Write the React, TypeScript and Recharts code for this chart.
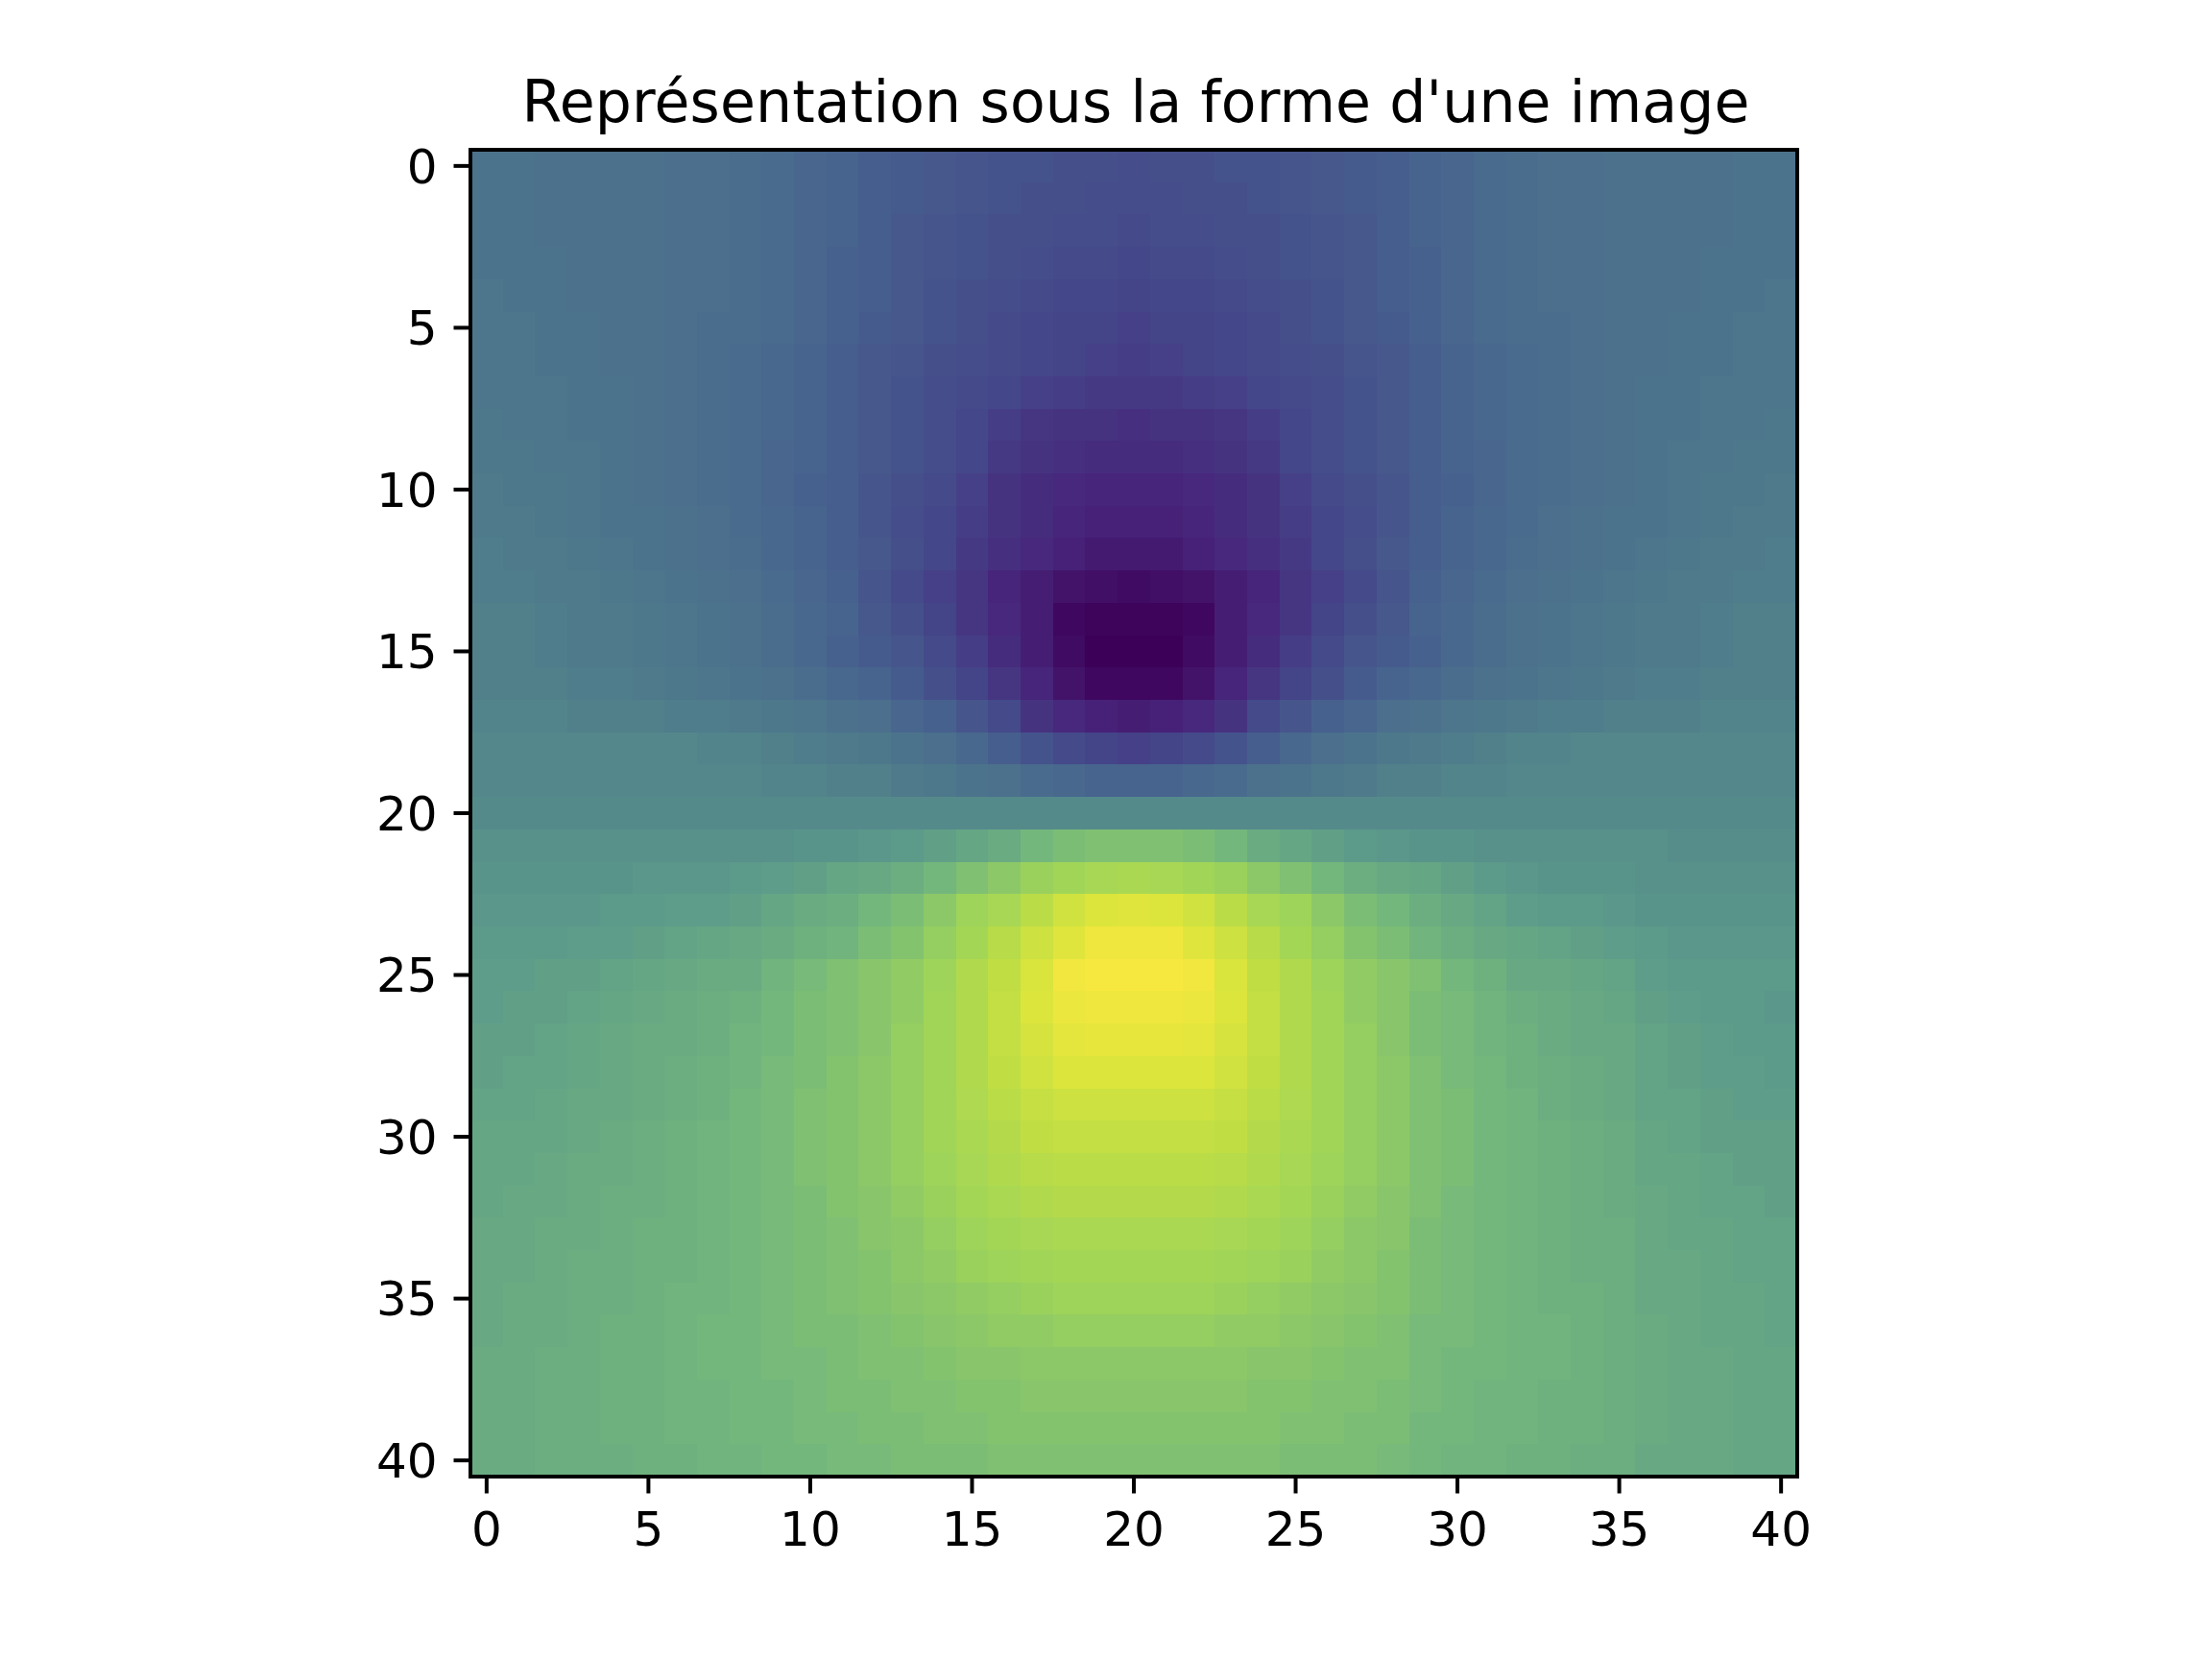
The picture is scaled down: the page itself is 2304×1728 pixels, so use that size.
import { ScatterChart, Scatter, XAxis, YAxis, ReferenceArea } from 'recharts';

const title = "Représentation sous la forme d'une image";
const xTicks = [0, 5, 10, 15, 20, 25, 30, 35, 40];
const yTicks = [0, 5, 10, 15, 20, 25, 30, 35, 40];

// values, 0 = darkest, 100 = brightest yellow
const heatRows = [
	[37, 37, 36, 36, 36, 36, 35, 35, 34, 33, 31, 30, 28, 27, 26, 25, 24, 24, 23, 23, 22, 23, 23, 24, 24, 25, 26, 27, 28, 30, 31, 33, 34, 35, 35, 36, 36, 36, 36, 37, 37],
	[37, 37, 36, 36, 36, 36, 35, 35, 34, 33, 31, 30, 28, 27, 26, 25, 24, 23, 23, 22, 22, 22, 23, 23, 24, 25, 26, 27, 28, 30, 31, 33, 34, 35, 35, 36, 36, 36, 36, 37, 37],
	[37, 37, 36, 36, 36, 36, 35, 35, 34, 33, 31, 30, 28, 26, 25, 24, 23, 23, 22, 22, 21, 22, 22, 23, 23, 24, 25, 26, 28, 30, 31, 33, 34, 35, 35, 36, 36, 36, 36, 37, 37],
	[37, 37, 37, 36, 36, 36, 35, 35, 34, 33, 31, 29, 28, 26, 25, 24, 23, 22, 21, 21, 20, 21, 21, 22, 23, 24, 25, 26, 28, 29, 31, 33, 34, 35, 35, 36, 36, 36, 37, 37, 37],
	[38, 37, 37, 36, 36, 36, 35, 35, 34, 33, 31, 29, 28, 26, 24, 23, 22, 21, 20, 20, 19, 20, 20, 21, 22, 23, 24, 26, 28, 29, 31, 33, 34, 35, 35, 36, 36, 36, 37, 37, 38],
	[38, 38, 37, 37, 36, 36, 35, 34, 34, 33, 31, 29, 27, 26, 24, 23, 21, 20, 19, 19, 18, 19, 19, 20, 21, 23, 24, 26, 27, 29, 31, 33, 34, 34, 35, 36, 36, 37, 37, 38, 38],
	[38, 38, 37, 37, 36, 36, 35, 34, 33, 32, 30, 28, 26, 25, 23, 22, 21, 20, 19, 18, 17, 18, 19, 20, 21, 22, 23, 25, 26, 28, 30, 32, 33, 34, 35, 36, 36, 37, 37, 38, 38],
	[38, 38, 38, 37, 37, 36, 35, 34, 33, 32, 30, 28, 26, 24, 22, 21, 20, 18, 17, 16, 16, 16, 17, 18, 20, 21, 22, 24, 26, 28, 30, 32, 33, 34, 35, 36, 37, 37, 38, 38, 38],
	[39, 38, 38, 37, 37, 36, 35, 34, 33, 32, 30, 28, 26, 24, 22, 20, 17, 15, 14, 14, 13, 14, 14, 15, 17, 20, 22, 24, 26, 28, 30, 32, 33, 34, 35, 36, 37, 37, 38, 38, 39],
	[39, 39, 38, 38, 37, 36, 35, 34, 33, 31, 30, 28, 26, 24, 22, 20, 16, 14, 13, 12, 12, 12, 13, 14, 16, 20, 22, 24, 26, 28, 30, 31, 33, 34, 35, 36, 37, 38, 38, 39, 39],
	[40, 39, 39, 38, 37, 36, 35, 34, 33, 31, 29, 28, 25, 23, 21, 18, 14, 12, 11, 10, 10, 10, 11, 12, 14, 18, 21, 23, 25, 28, 29, 31, 33, 34, 35, 36, 37, 38, 39, 39, 40],
	[40, 40, 39, 38, 37, 37, 36, 35, 33, 32, 30, 28, 25, 22, 20, 17, 14, 12, 10, 9, 9, 9, 10, 12, 14, 17, 20, 22, 25, 28, 30, 32, 33, 35, 36, 37, 37, 38, 39, 40, 40],
	[41, 40, 40, 39, 38, 37, 36, 35, 34, 32, 30, 28, 26, 23, 20, 16, 13, 11, 9, 7, 7, 7, 9, 11, 13, 16, 20, 23, 26, 28, 30, 32, 34, 35, 36, 37, 38, 39, 40, 40, 41],
	[41, 41, 40, 40, 39, 38, 37, 36, 35, 33, 31, 29, 25, 21, 18, 15, 10, 8, 5, 4, 3, 4, 5, 8, 10, 15, 18, 21, 25, 29, 31, 33, 35, 36, 37, 38, 39, 40, 40, 41, 41],
	[42, 42, 41, 40, 40, 39, 38, 37, 36, 34, 32, 30, 26, 23, 19, 15, 11, 8, 2, 1, 1, 1, 2, 8, 11, 15, 19, 23, 26, 30, 32, 34, 36, 37, 38, 39, 40, 40, 41, 42, 42],
	[42, 42, 41, 40, 40, 39, 38, 37, 36, 34, 32, 29, 27, 25, 21, 17, 12, 8, 3, 0, 0, 0, 3, 8, 12, 17, 21, 25, 27, 29, 32, 34, 36, 37, 38, 39, 40, 40, 41, 42, 42],
	[42, 42, 42, 41, 41, 40, 39, 38, 37, 36, 34, 32, 30, 27, 23, 19, 15, 10, 5, 2, 2, 2, 5, 10, 15, 19, 23, 27, 30, 32, 34, 36, 37, 38, 39, 40, 41, 41, 42, 42, 42],
	[43, 43, 43, 42, 42, 42, 41, 41, 40, 39, 38, 36, 35, 31, 29, 25, 21, 14, 11, 9, 8, 9, 11, 14, 21, 25, 29, 31, 35, 36, 38, 39, 40, 41, 41, 42, 42, 42, 43, 43, 43],
	[44, 44, 44, 44, 44, 44, 44, 43, 43, 42, 41, 40, 39, 37, 35, 32, 28, 24, 21, 19, 18, 19, 21, 24, 28, 32, 35, 37, 39, 40, 41, 42, 43, 43, 44, 44, 44, 44, 44, 44, 44],
	[44, 44, 44, 44, 44, 44, 44, 44, 44, 43, 43, 42, 42, 40, 39, 37, 36, 33, 32, 30, 30, 30, 32, 33, 36, 37, 39, 40, 42, 42, 43, 43, 44, 44, 44, 44, 44, 44, 44, 44, 44],
	[45, 45, 45, 45, 45, 45, 45, 45, 45, 45, 45, 45, 45, 45, 45, 45, 45, 45, 45, 45, 45, 45, 45, 45, 45, 45, 45, 45, 45, 45, 45, 45, 45, 45, 45, 45, 45, 45, 45, 45, 45],
	[47, 47, 47, 47, 47, 47, 47, 47, 47, 47, 48, 48, 49, 50, 52, 54, 56, 60, 62, 63, 63, 63, 62, 60, 56, 54, 52, 50, 49, 48, 48, 47, 47, 47, 47, 47, 47, 46, 46, 46, 46],
	[48, 48, 48, 48, 48, 49, 49, 49, 50, 51, 52, 54, 55, 57, 60, 63, 66, 69, 71, 73, 74, 73, 71, 69, 66, 63, 60, 57, 55, 54, 52, 50, 49, 48, 48, 48, 47, 47, 47, 47, 47],
	[49, 49, 49, 49, 50, 50, 51, 51, 52, 54, 56, 57, 60, 62, 66, 70, 73, 79, 86, 90, 91, 90, 86, 79, 73, 70, 66, 62, 60, 57, 55, 53, 51, 50, 50, 49, 48, 48, 48, 48, 48],
	[50, 50, 50, 51, 51, 52, 53, 54, 55, 56, 58, 59, 62, 64, 68, 72, 78, 85, 91, 97, 97, 97, 91, 85, 78, 72, 68, 64, 62, 59, 57, 55, 54, 53, 52, 51, 50, 49, 49, 49, 49],
	[51, 51, 52, 52, 53, 54, 55, 56, 56, 59, 61, 63, 65, 67, 70, 76, 81, 89, 98, 100, 100, 100, 98, 89, 81, 76, 70, 67, 65, 63, 60, 58, 55, 55, 54, 53, 51, 50, 50, 50, 50],
	[51, 52, 52, 53, 54, 55, 56, 57, 58, 60, 62, 63, 65, 67, 71, 76, 82, 90, 96, 97, 97, 97, 96, 90, 82, 76, 71, 67, 65, 62, 61, 59, 57, 56, 55, 54, 52, 51, 50, 50, 49],
	[52, 52, 53, 54, 55, 56, 56, 57, 59, 60, 62, 63, 65, 68, 71, 76, 82, 88, 93, 94, 94, 94, 93, 88, 82, 76, 71, 68, 65, 62, 61, 59, 58, 56, 55, 55, 53, 52, 51, 50, 50],
	[52, 53, 53, 54, 55, 56, 57, 58, 59, 61, 62, 64, 66, 68, 71, 76, 81, 86, 90, 90, 90, 90, 90, 86, 81, 76, 71, 68, 66, 63, 61, 60, 58, 57, 56, 55, 53, 52, 51, 51, 50],
	[53, 53, 54, 55, 55, 56, 57, 58, 60, 61, 63, 64, 66, 68, 71, 75, 79, 83, 85, 85, 85, 85, 85, 83, 79, 75, 71, 68, 66, 63, 62, 60, 59, 57, 56, 55, 53, 53, 52, 51, 51],
	[54, 54, 54, 55, 56, 57, 58, 59, 60, 61, 63, 64, 66, 68, 71, 74, 77, 81, 82, 82, 82, 82, 82, 81, 77, 74, 71, 68, 66, 63, 62, 60, 59, 58, 57, 56, 54, 53, 52, 52, 52],
	[54, 54, 55, 56, 56, 57, 58, 59, 60, 61, 63, 64, 66, 68, 70, 73, 76, 78, 79, 79, 79, 79, 79, 78, 76, 73, 70, 68, 66, 63, 62, 60, 59, 58, 57, 56, 54, 54, 53, 52, 52],
	[54, 55, 55, 56, 57, 57, 58, 59, 60, 61, 62, 64, 65, 67, 69, 72, 74, 76, 77, 77, 77, 77, 77, 76, 74, 72, 69, 67, 65, 63, 61, 60, 59, 58, 57, 56, 55, 54, 53, 53, 52],
	[55, 55, 56, 56, 57, 58, 58, 59, 60, 61, 62, 63, 65, 66, 68, 70, 72, 73, 74, 74, 74, 74, 74, 73, 72, 70, 68, 66, 65, 62, 61, 60, 59, 58, 57, 57, 55, 54, 54, 53, 53],
	[55, 55, 56, 57, 57, 58, 58, 59, 60, 61, 62, 63, 64, 66, 67, 69, 70, 71, 72, 72, 72, 72, 72, 71, 70, 69, 67, 66, 64, 62, 61, 60, 59, 58, 57, 57, 55, 55, 54, 53, 53],
	[55, 56, 56, 57, 57, 58, 59, 59, 60, 61, 62, 63, 64, 65, 66, 67, 68, 69, 70, 70, 70, 70, 70, 69, 68, 67, 66, 65, 64, 62, 61, 60, 59, 58, 58, 57, 55, 55, 54, 54, 53],
	[55, 56, 56, 57, 58, 58, 59, 60, 60, 61, 62, 62, 63, 64, 65, 66, 67, 67, 68, 68, 68, 68, 68, 67, 67, 66, 65, 64, 63, 61, 61, 60, 59, 59, 58, 57, 56, 55, 54, 54, 53],
	[56, 56, 57, 57, 58, 58, 59, 60, 60, 61, 61, 62, 63, 63, 64, 65, 65, 66, 66, 66, 66, 66, 66, 66, 65, 65, 64, 63, 63, 61, 60, 60, 59, 59, 58, 57, 56, 55, 55, 54, 54],
	[56, 56, 57, 57, 58, 58, 59, 59, 60, 60, 61, 62, 62, 63, 63, 64, 64, 65, 65, 65, 65, 65, 65, 65, 64, 64, 63, 63, 62, 61, 60, 59, 59, 58, 58, 57, 56, 55, 55, 54, 54],
	[56, 56, 57, 57, 58, 58, 59, 59, 60, 60, 61, 61, 62, 62, 63, 63, 64, 64, 64, 64, 64, 64, 64, 64, 64, 63, 63, 62, 62, 60, 60, 59, 59, 58, 58, 57, 56, 55, 55, 54, 54],
	[56, 56, 57, 57, 57, 58, 58, 59, 59, 60, 60, 61, 61, 62, 62, 62, 63, 63, 63, 63, 63, 63, 63, 63, 63, 62, 62, 62, 61, 60, 59, 59, 58, 58, 57, 57, 55, 55, 55, 54, 54],
];

const paletteStops = ['#3d0058', '#47257a', '#44478a', '#47648e', '#4e7a8b', '#5c9a8a', '#73b77c', '#9ed45a', '#bddd45', '#dce53c', '#f7e83f'];

function hexToRgb(hex: string) {
	return [1, 3, 5].map((i) => parseInt(hex.slice(i, i + 2), 16));
}

function colorOf(v: number) {
	const pos = Math.min(v / 10, paletteStops.length - 1.001);
	const i = Math.floor(pos);
	const a = hexToRgb(paletteStops[i]);
	const b = hexToRgb(paletteStops[i + 1]);
	const t = pos - i;
	const c = a.map((n, k) => Math.round(n + (b[k] - n) * t));
	return `rgb(${c[0]},${c[1]},${c[2]})`;
}

const cells = heatRows.flatMap((row, y) => row.map((v, x) => ({ x, y, v })));

const PLOT = 1382;
const CELL = PLOT / 41;
const axisFont = { fontSize: 50, fontFamily: 'DejaVu Sans', fill: '#000' };
const tickStroke = { stroke: '#000', strokeWidth: 4 };

function HeatCell(props: any) {
	const { cx, cy, payload } = props;
	return (
		<rect
			x={cx - CELL / 2}
			y={cy - CELL / 2}
			width={CELL + 0.6}
			height={CELL + 0.6}
			fill={colorOf(payload.v)}
			shapeRendering="crispEdges"
		/>
	);
}

export default function App() {
	return (
		<div style={{ position: 'absolute', left: 0, top: 0, background: '#fff' }}>
			<ScatterChart
				width={2304}
				height={1728}
				margin={{ top: 156, right: 432, left: 390, bottom: 90 }}
			>
				<XAxis
					type="number"
					dataKey="x"
					domain={[-0.5, 40.5]}
					ticks={xTicks}
					interval={0}
					height={100}
					allowDataOverflow
					tick={axisFont}
					tickSize={17.5}
					tickMargin={19}
					tickLine={tickStroke}
					axisLine={tickStroke}
				/>
				<YAxis
					type="number"
					dataKey="y"
					reversed
					domain={[-0.5, 40.5]}
					ticks={yTicks}
					interval={0}
					width={100}
					allowDataOverflow
					tick={axisFont}
					tickSize={17.5}
					tickMargin={17}
					tickLine={tickStroke}
					axisLine={tickStroke}
				/>
				<Scatter data={cells} shape={HeatCell} isAnimationActive={false} />
				<ReferenceArea x1={-0.5} x2={40.5} y1={-0.5} y2={40.5} fill="none" stroke="#000" strokeWidth={4} ifOverflow="visible" zIndex={2000} />
				<text x={1183} y={127} textAnchor="middle" fontSize={60} fontFamily="DejaVu Sans" fill="#000" letterSpacing={0.15}>
					{title}
				</text>
			</ScatterChart>
		</div>
	);
}
